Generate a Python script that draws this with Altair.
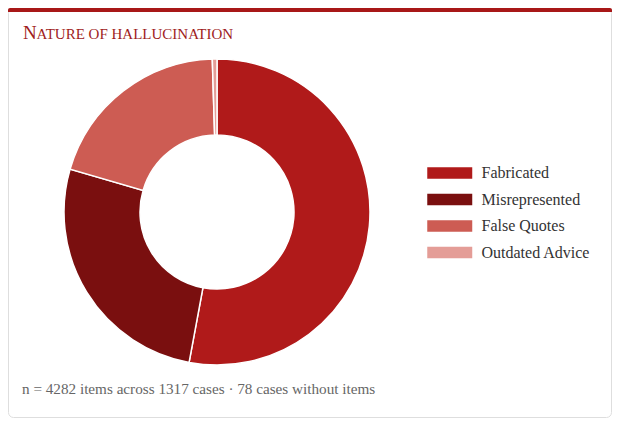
import altair as alt
import pandas as pd

categories = ["Fabricated", "Misrepresented", "False Quotes", "Outdated Advice"]
counts = [2266, 1139, 856, 21]
colors = ["#b01a1a", "#7a0f0f", "#cd5c53", "#e49d97"]

title_first = "N"
title_rest = "ATURE OF HALLUCINATION"
footer = "n = 4282 items across 1317 cases \u00b7 78 cases without items"

W, H = 604, 410
SERIF = "Liberation Serif, Georgia, Times New Roman, serif"

df = pd.DataFrame({"category": categories, "count": counts, "idx": list(range(len(categories)))})

card = alt.Chart(alt.Data(values=[{"a": 1}])).mark_rect(
    fill="white", stroke="#dedede", strokeWidth=1, cornerRadius=5
).encode(x=alt.value(0.5), x2=alt.value(W - 0.5), y=alt.value(0.5), y2=alt.value(H - 0.5))

topbar = alt.Chart(alt.Data(values=[{"a": 1}])).mark_rect(
    fill="#a81818", cornerRadiusTopLeft=4, cornerRadiusTopRight=4
).encode(x=alt.value(0), x2=alt.value(W), y=alt.value(0), y2=alt.value(4))

t1 = alt.Chart(alt.Data(values=[{"t": title_first}])).mark_text(
    font=SERIF, fontSize=19, color="#a01c1c", align="left", baseline="alphabetic"
).encode(text="t:N", x=alt.value(15), y=alt.value(31))

t2 = alt.Chart(alt.Data(values=[{"t": title_rest}])).mark_text(
    font=SERIF, fontSize=15, color="#a01c1c", align="left", baseline="alphabetic"
).encode(text="t:N", x=alt.value(28.5), y=alt.value(31))

foot = alt.Chart(alt.Data(values=[{"t": footer}])).mark_text(
    font=SERIF, fontSize=15.2, color="#666666", align="left", baseline="alphabetic"
).encode(text="t:N", x=alt.value(14), y=alt.value(386))

donut = alt.Chart(df).mark_arc(
    innerRadius=77, outerRadius=153, stroke="white", strokeWidth=1.5
).encode(
    theta=alt.Theta("count:Q", stack=True),
    order=alt.Order("idx:Q"),
    color=alt.Color(
        "category:N",
        sort=categories,
        scale=alt.Scale(domain=categories, range=colors),
        legend=alt.Legend(
            title=None,
            orient="none",
            legendX=430.25,
            legendY=153.5,
            symbolType="M-2,-0.52H2V0.52H-2Z",
            symbolSize=506,
            symbolStrokeWidth=0,
            symbolOpacity=1,
            labelFont=SERIF,
            labelFontSize=16,
            labelColor="#333333",
            labelOffset=20.25,
            rowPadding=6.5,
        ),
    ),
    x=alt.value(209),
    y=alt.value(204),
)

chart = alt.layer(card, topbar, t1, t2, foot, donut).properties(
    width=W, height=H, padding=0, autosize=alt.AutoSizeParams(type="none"), background="white"
).configure_view(stroke=None)

chart.save("out.html", embed_options={"renderer": "svg", "actions": False})
